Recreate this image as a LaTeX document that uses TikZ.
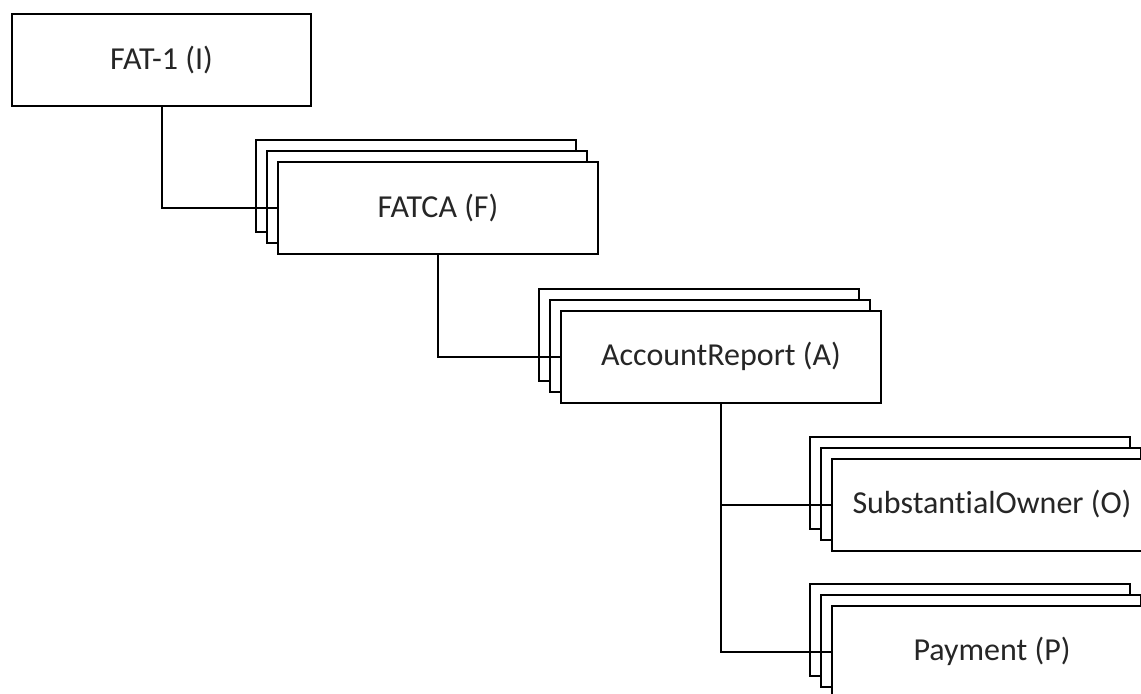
\documentclass[tikz,border=0pt]{standalone}
\usepackage{fontspec}
\setmainfont{Carlito}[Ligatures={NoCommon}]
\usetikzlibrary{shadows}

\begin{document}
\begin{tikzpicture}
    [x=0.5pt, y=-0.5pt,
    box/.style ={draw, line width=1pt, fill=white,
        minimum width=160pt, minimum height=46pt,
        font=\fontsize{16pt}{19pt}\selectfont, text=black!85},
    stack/.style={box,
        double copy shadow={shadow xshift=-5.5pt, shadow yshift=5.5pt}},
    link/.style={line width=1pt}
    ]
    \useasboundingbox (0,0) rectangle (1141,693);
    \clip (0,0) rectangle (1141,693);

    % records, top level first
    \node (fat)   [box, minimum width=149.5pt] at (161.5,60)  {FAT-1 (I)};
    \node (fatca) [stack] at (438,208)   {FATCA (F)};
    \node (acct)  [stack] at (721,356.5) {AccountReport (A)};
    \node (owner) [stack] at (992,504.5) {SubstantialOwner (O)};
    \node (pay)   [stack] at (992,651.5) {Payment (P)};

    % links
    \draw [link] (fat.south)   |- (fatca.west);
    \draw [link] (fatca.south) |- (acct.west);
    \draw [link] (acct.south)  |- (owner.west);
    \draw [link] (acct.south)  |- (pay.west);
\end{tikzpicture}
\end{document}
